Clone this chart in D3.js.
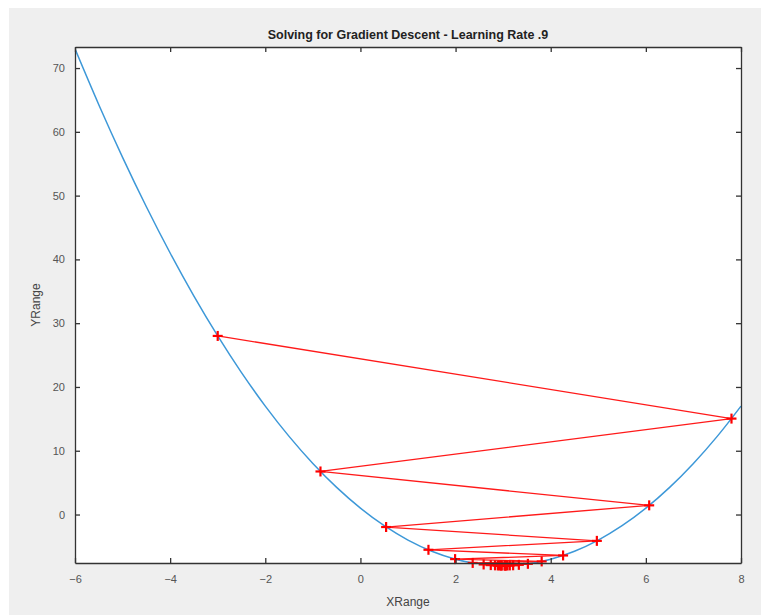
<!DOCTYPE html>
<html>
<head>
<meta charset="utf-8">
<script src="https://cdn.jsdelivr.net/npm/d3@7"></script>
<style>
  body { margin: 0; background: #fff; }
  text { font-family: Helvetica, Arial, "Liberation Sans", sans-serif; }
</style>
</head>
<body>
<script>

// blue curve, sampled
var curveX = [-6, -5.5, -5, -4.5, -4, -3.5, -3, -2.5, -2, -1.5, -1, -0.5, 0, 0.5, 1, 1.5, 2, 2.5, 3, 3.5, 4, 4.5, 5, 5.5, 6, 6.5, 7, 7.5, 8];
var curveY = [73, 64.25, 56, 48.25, 41, 34.25, 28, 22.25, 17, 12.25, 8, 4.25, 1, -1.75, -4, -5.75, -7, -7.75, -8, -7.75, -7, -5.75, -4, -1.75, 1, 4.25, 8, 12.25, 17];

// descent steps (red)
var stepX = [-3, 7.8, -0.84, 6.07, 0.54, 4.97, 1.43, 4.26, 1.99, 3.81, 2.36, 3.52, 2.59, 3.33, 2.74, 3.21, 2.83, 3.14, 2.89, 3.09, 2.93, 3.06, 2.96, 3.04, 2.97, 3.03];
var stepY = [28, 15.04, 6.75, 1.44, -1.96, -4.13, -5.53, -6.42, -6.99, -7.35, -7.59, -7.73, -7.83, -7.89, -7.93, -7.96, -7.97, -7.98, -7.99, -7.99, -8, -8, -8, -8, -8, -8];

var xTicks = [-6, -4, -2, 0, 2, 4, 6, 8];
var yTicks = [0, 10, 20, 30, 40, 50, 60, 70];

var W = 761, H = 615;
var box = {left: 75, right: 741, top: 47, bottom: 563};

var svg = d3.select("body").append("svg")
    .attr("width", W)
    .attr("height", H);

// figure background
svg.append("rect")
    .attr("x", 9).attr("y", 8)
    .attr("width", W - 9).attr("height", H - 8)
    .attr("fill", "#efefef");

svg.append("rect")
    .attr("x", box.left).attr("y", box.top)
    .attr("width", box.right - box.left).attr("height", box.bottom - box.top)
    .attr("fill", "#fff");

var x = d3.scaleLinear().domain([-6, 8]).range([box.left, box.right]);
var y = d3.scaleLinear().domain([-7.6, 73.3]).range([box.bottom, box.top]);

svg.append("clipPath").attr("id", "clip")
  .append("rect")
    .attr("x", box.left).attr("y", box.top)
    .attr("width", box.right - box.left).attr("height", box.bottom - box.top);

var curve = curveX.map(function(d, i) { return [d, curveY[i]]; });
var steps = stepX.map(function(d, i) { return [d, stepY[i]]; });

var line = d3.line()
    .x(function(d) { return x(d[0]); })
    .y(function(d) { return y(d[1]); })
    .curve(d3.curveCatmullRom);

svg.append("path")
    .datum(curve)
    .attr("clip-path", "url(#clip)")
    .attr("d", line)
    .attr("fill", "none")
    .attr("stroke", "#3d98d8")
    .attr("stroke-width", 1.5);

var straight = d3.line()
    .x(function(d) { return x(d[0]); })
    .y(function(d) { return y(d[1]); });

svg.append("path")
    .datum(steps)
    .attr("d", straight)
    .attr("fill", "none")
    .attr("stroke", "#ff1a1a")
    .attr("stroke-width", 1.3);

// + markers
var ms = 5;
var mk = svg.append("g").selectAll("g")
    .data(steps)
  .enter().append("g")
    .attr("transform", function(d) { return "translate(" + x(d[0]) + "," + y(d[1]) + ")"; });
mk.append("line").attr("x1", -ms).attr("x2", ms).attr("y1", 0).attr("y2", 0);
mk.append("line").attr("x1", 0).attr("x2", 0).attr("y1", -ms).attr("y2", ms);
mk.selectAll("line").attr("stroke", "#ff0000").attr("stroke-width", 2.2);

// axes, ticks inward on all four sides
var axisCol = "#333";

var xAxis = d3.axisBottom(x).tickValues(xTicks).tickSizeInner(-5).tickSizeOuter(0).tickPadding(12);
var gx = svg.append("g").attr("transform", "translate(0," + box.bottom + ")").call(xAxis);

var yAxis = d3.axisLeft(y).tickValues(yTicks).tickSizeInner(-5).tickSizeOuter(0).tickPadding(10);
var gy = svg.append("g").attr("transform", "translate(" + box.left + ",0)").call(yAxis);

var gxt = svg.append("g").attr("transform", "translate(0," + box.top + ")")
    .call(d3.axisTop(x).tickValues(xTicks).tickSizeInner(-5).tickSizeOuter(0).tickFormat(""));
var gyr = svg.append("g").attr("transform", "translate(" + box.right + ",0)")
    .call(d3.axisRight(y).tickValues(yTicks).tickSizeInner(-5).tickSizeOuter(0).tickFormat(""));

[gx, gy, gxt, gyr].forEach(function(g) {
  g.select(".domain").attr("stroke", axisCol).attr("stroke-width", 1.3);
  g.selectAll(".tick line").attr("stroke", axisCol).attr("stroke-width", 1.3);
  g.selectAll(".tick text")
    .attr("fill", "#555")
    .style("font-family", "Helvetica, Arial, 'Liberation Sans', sans-serif")
    .style("font-size", "11px");
});

svg.append("text")
    .attr("x", (box.left + box.right) / 2)
    .attr("y", 39)
    .attr("text-anchor", "middle")
    .style("font-size", "12.5px")
    .style("font-weight", "bold")
    .attr("fill", "#222")
    .text("Solving for Gradient Descent - Learning Rate .9");

svg.append("text")
    .attr("x", (box.left + box.right) / 2)
    .attr("y", 606)
    .attr("text-anchor", "middle")
    .style("font-size", "12px")
    .attr("fill", "#444")
    .text("XRange");

svg.append("text")
    .attr("transform", "translate(40," + ((box.top + box.bottom) / 2) + ") rotate(-90)")
    .attr("text-anchor", "middle")
    .style("font-size", "12px")
    .attr("fill", "#444")
    .text("YRange");

</script>
</body>
</html>
